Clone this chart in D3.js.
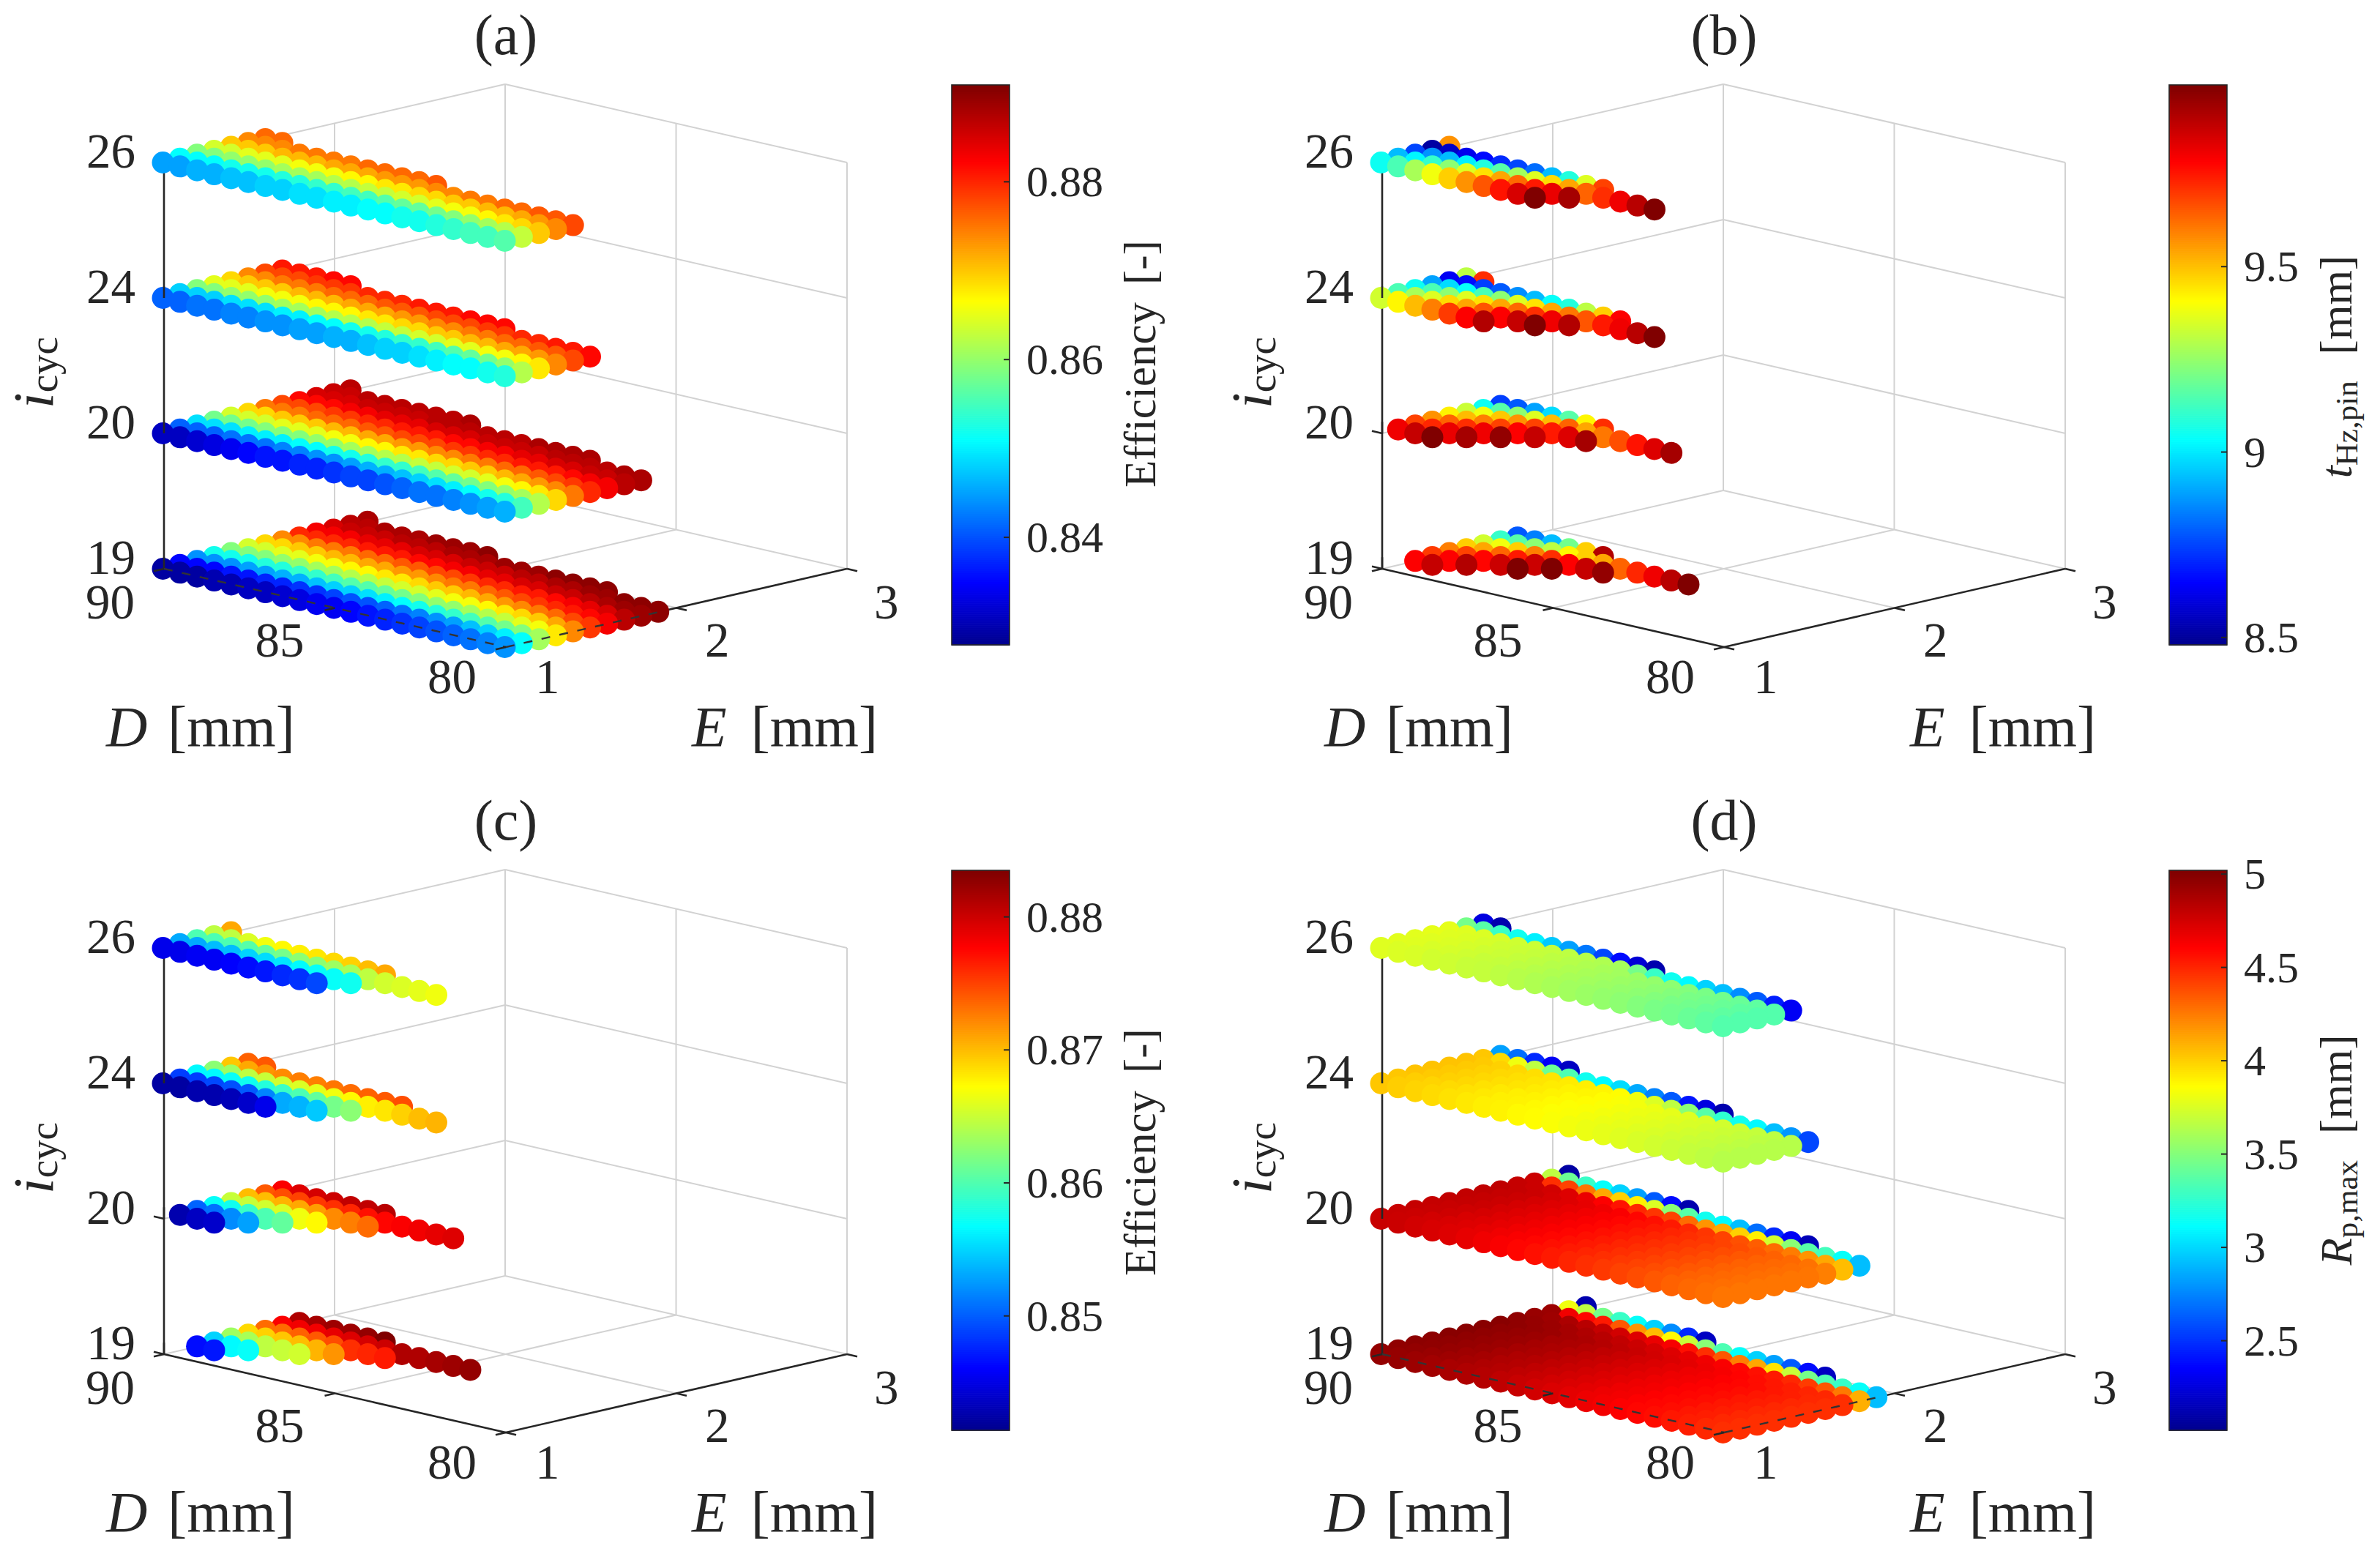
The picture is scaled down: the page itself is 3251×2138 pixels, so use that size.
<!DOCTYPE html>
<html><head><meta charset="utf-8">
<script src="https://cdn.jsdelivr.net/npm/d3@7"></script>
<style>html,body{margin:0;padding:0;background:#fff}svg{display:block}text{font-family:"Liberation Serif",serif;fill:#262626}</style>
</head><body><svg id="c" width="3251" height="2138"></svg>
<script>
// grid of the design study: each row below starts at D = 90 mm; the row index is the E grid index
const dGrid=[90,89.5,89,88.5,88,87.5,87,86.5,86,85.5,85,84.5,84,83.5,83,82.5,82,81.5,81,80.5,80];
const eGrid=[1,1.1,1.2,1.3,1.4,1.5,1.6,1.7,1.8,1.9,2,2.1,2.2];
const cycLevels=[19,20,24,26];
const dTicks=[90,85,80], eTicks=[1,2,3];

// (a) efficiency, x 1e-3
const a26=[[845,845,846,846,847,847,848,848,849,849,850,850,851,851,852,852,853,854,855,855,856],
[851,851,851,852,852,852,853,853,854,854,855,855,856,857,857,858,859,860,861,862,863],
[859,859,860,860,860,861,861,861,862,862,863,863,864,864,865,866,866,867,868,869,870],
[864,864,865,865,865,866,866,866,867,867,868,868,869,869,870,870,871,871,872,873,874],
[870,870,870,871,871,871,872,872,872,873,873,873,874,874,875,875,876,876,877,877,878],
[874,874,874,875,875,875,875,876,876,876,876,877],
[876,876]];
const a24=[[841,841,842,842,843,843,844,844,845,845,846,846,847,848,848,849,850,851,851,852,853],
[848,848,848,849,849,849,850,850,851,851,852,852,853,854,854,855,856,857,858,860,862],
[859,859,860,860,860,861,861,861,862,862,862,863,863,864,864,865,865,866,866,867,868],
[865,865,865,866,866,866,867,867,867,868,868,869,869,870,870,871,871,872,872,873,874],
[869,870,870,870,871,871,871,872,872,872,873,873,874,874,875,875,876,876,877,877,878],
[874,874,875,875,875,876,876,876,877,877,877,878,878,878,879,879,880,880,881,881,882],
[878,878,878,879,879,879,880,880,880,881,881,881,882,882,882],
[881,881,881,882,882]];
const a20=[[831,831,832,833,834,835,836,836,837,837,838,839,839,840,841,842,842,843,844,845,846],
[841,841,841,842,842,842,843,843,844,844,845,846,846,847,848,849,850,851,852,853,855],
[849,849,849,850,850,850,851,851,852,852,853,854,854,855,856,857,858,859,860,861,862],
[858,858,858,859,859,859,860,860,861,861,862,862,863,863,864,864,865,866,867,868,869],
[864,864,864,865,865,865,866,866,867,867,868,868,869,869,870,870,871,872,873,874,875],
[869,869,870,870,870,871,871,872,872,873,873,874,874,875,875,876,876,877,878,879,880],
[875,875,875,876,876,876,877,877,878,878,878,879,879,880,880,881,881,881,882,883,883],
[878,878,878,879,879,880,880,881,881,881,882,882,883,883,884,884,885,885,886,886,887],
[882,882,882,883,883,884,884,884,885,885,885,886,886,886,886,887,887,887,887,888,888],
[885,885,885,886,886,886,886,887,887,887,887,887,887,888,888,888,888],
[886,886,887,887,887,887,887,887,888],
[887]];
const a19=[[829,829,829,830,830,831,831,832,833,834,834,835,836,837,838,839,840,841,842,843,844],
[835,835,835,836,836,837,837,838,838,839,840,840,841,842,843,844,845,847,848,850,851],
[844,844,844,845,845,846,846,847,848,848,849,850,851,852,853,854,855,856,858,859,861],
[852,852,852,853,853,854,854,855,856,856,857,858,859,860,860,861,862,863,865,866,868],
[859,859,859,860,860,861,861,862,862,863,864,864,865,866,866,867,868,869,870,872,874],
[864,864,865,865,866,866,867,867,868,868,869,870,870,871,872,873,874,875,876,878,879],
[869,869,870,870,871,871,872,872,873,873,874,875,875,876,877,878,879,880,881,882,883],
[874,874,875,875,875,876,876,877,877,878,878,879,880,880,881,881,882,883,884,885,887],
[880,880,880,880,881,881,881,882,882,883,883,884,884,885,885,886,886,887,888,889,889],
[883,883,883,884,884,884,885,885,885,886,886,886,887,887,888,888,889,889,890,890,890],
[885,886,886,886,887,887,887,888,888,888,889,889,889,890,890,890,890],
[887,887,888,888,888,889,889,889,890],
[888]];

// (b) t_Hz,pin, mm
const b26=[[9.05,9.14,9.28,9.39,9.48,9.57,9.66,9.76,9.85,9.99],
[8.93,9.02,9.11,9.24,9.36,9.45,9.54,9.63,9.75,9.82,9.93],
[8.75,8.87,8.93,9.01,9.08,9.16,9.27,9.36,9.46,9.54,9.64,9.72,9.81,9.90,9.99],
[8.51,8.56,8.62,8.66,8.71,8.75,8.81,8.93,9.08,9.36,9.69],
[9.57]];
const b24=[[9.34,9.42,9.51,9.60,9.70,9.79,9.91],
[9.14,9.28,9.36,9.46,9.54,9.66,9.79,9.88,9.99],
[9.05,9.14,9.24,9.36,9.45,9.54,9.63,9.72,9.81,9.91],
[8.89,8.98,9.04,9.14,9.24,9.36,9.45,9.54,9.61,9.66,9.75,9.81,9.90,9.99],
[8.63,8.66,8.74,8.78,8.86,8.93,9.04,9.08,9.31,9.48,9.79],
[9.31,9.72]];
const b20=[[],
[9.81,9.88,9.99],
[9.69,9.73,9.82,9.93],
[9.57,9.64,9.72,9.81,9.96],
[9.43,9.51,9.60,9.69,9.79,9.88],
[9.33,9.39,9.49,9.57,9.69,9.75,9.84,9.93],
[9.05,9.16,9.24,9.36,9.51,9.64,9.54,9.61,9.67,9.76,9.84,9.93],
[8.74,8.78,8.89,8.98,9.16,9.42,9.72]];
const b19=[[],[],
[9.79,9.88],
[9.70,9.79,9.91],
[9.60,9.69,9.78,9.87,9.99],
[9.48,9.54,9.64,9.75,9.87,9.99],
[9.34,9.39,9.48,9.60,9.72,9.79,9.88,9.96],
[9.11,9.16,9.24,9.31,9.42,9.48,9.54,9.64,9.73,9.81,9.90,9.99],
[8.78,8.84,8.93,9.20,9.48,9.91]];

// (c) efficiency, x 1e-4
const c26=[[8452,8452,8456,8456,8460,8465,8469,8477,8481,8490],
[8532,8532,8540,8540,8549,8553,8557,8566,8570,8570,8574],
[8599,8599,8599,8603,8608,8616,8625,8625,8633,8637,8646,8654,8658,8662,8667],
[8646,8646,8658,8667,8675,8679,8683,8688,8692,8700,8709],
[8709]];
const c24=[[8422,8422,8427,8427,8431,8439,8452],
[8486,8486,8490,8494,8498,8516,8532,8536,8545],
[8566,8566,8570,8574,8582,8591,8599,8608,8616,8625],
[8625,8633,8646,8650,8654,8658,8662,8667,8675,8679,8683,8692,8700,8704],
[8696,8709,8717,8721,8726,8726,8730,8734,8738,8742,8747],
[8738,8742]];
const c20=[[],
[8427,8435,8439],
[8502,8507,8519,8528],
[8570,8574,8591,8599,8608],
[8650,8650,8654,8658,8667,8675],
[8700,8700,8704,8709,8713,8721,8726,8734],
[8742,8747,8751,8755,8759,8763,8772,8776,8780,8784,8789,8793],
[8780,8793,8797,8801,8806,8806,8810]];
const c19=[[],[],
[8465,8469],
[8549,8566,8570],
[8633,8637,8646,8650,8654],
[8688,8692,8696,8700,8704,8717],
[8734,8734,8738,8742,8747,8759,8763,8768],
[8780,8784,8784,8789,8793,8797,8801,8814,8814,8818,8822,8826],
[8814,8818,8822,8822,8826,8835]];

// (d) R_p,max, mm
const d26=[[3.77,3.76,3.75,3.73,3.72,3.70,3.69,3.67,3.65,3.63,3.61,3.59,3.57,3.55,3.53,3.50,3.47,3.45,3.42,3.39,3.36],
[3.78,3.77,3.75,3.74,3.72,3.70,3.69,3.67,3.65,3.63,3.61,3.59,3.57,3.55,3.53,3.50,3.47,3.45,3.42,3.39,3.36],
[3.78,3.77,3.76,3.74,3.72,3.71,3.69,3.67,3.65,3.63,3.61,3.59,3.57,3.55,3.53,3.50,3.47,3.45,3.42,3.39,3.36],
[3.79,3.77,3.76,3.74,3.72,3.71,3.69,3.67,3.65,3.63,3.61,3.59,3.57,3.55,3.53,3.50,3.47,3.45,3.42,3.39,3.36],
[3.79,3.77,3.76,3.74,3.72,3.71,3.69,3.67,3.65,3.63,3.60,3.46,3.28,3.16,3.10,2.98,2.92,2.77,2.62,2.44,2.32],
[3.46,3.37,3.28,3.16,3.07,2.95,2.83,2.71,2.56,2.38,2.23,2.11],
[2.26,2.11]];
const d24=[[4.03,4.01,3.99,3.97,3.95,3.93,3.91,3.90,3.88,3.87,3.85,3.83,3.81,3.79,3.77,3.75,3.73,3.71,3.69,3.67,3.65],
[4.03,4.01,3.99,3.97,3.95,3.93,3.91,3.90,3.88,3.86,3.85,3.83,3.81,3.79,3.77,3.75,3.73,3.71,3.69,3.67,3.65],
[4.04,4.02,4.00,3.98,3.95,3.93,3.91,3.90,3.88,3.86,3.85,3.83,3.81,3.79,3.77,3.75,3.73,3.71,3.69,3.67,3.65],
[4.04,4.02,4.00,3.98,3.96,3.94,3.92,3.90,3.88,3.87,3.85,3.83,3.81,3.79,3.77,3.75,3.73,3.71,3.69,3.67,3.65],
[4.04,4.02,4.00,3.98,3.96,3.94,3.92,3.90,3.89,3.87,3.85,3.83,3.81,3.79,3.77,3.75,3.73,3.71,3.69,3.67,3.65],
[4.04,4.02,4.00,3.98,3.96,3.94,3.92,3.91,3.89,3.87,3.82,3.76,3.67,3.52,3.37,3.25,3.16,3.10,2.92,2.80,2.56],
[4.03,3.97,3.82,3.67,3.43,3.34,3.16,3.10,3.01,2.86,2.74,2.62,2.41,2.26,2.11],
[2.83,2.68,2.47,2.32,2.17]];
const d20=[[4.79,4.78,4.76,4.74,4.72,4.69,4.66,4.63,4.60,4.57,4.54,4.51,4.48,4.45,4.42,4.39,4.36,4.33,4.31,4.29,4.27],
[4.79,4.78,4.76,4.74,4.72,4.69,4.66,4.63,4.60,4.57,4.54,4.51,4.48,4.45,4.42,4.39,4.36,4.33,4.31,4.29,4.27],
[4.80,4.79,4.77,4.74,4.72,4.69,4.66,4.63,4.60,4.57,4.54,4.51,4.48,4.45,4.42,4.39,4.36,4.33,4.31,4.29,4.27],
[4.80,4.79,4.77,4.75,4.72,4.69,4.66,4.63,4.60,4.57,4.54,4.51,4.48,4.45,4.42,4.39,4.36,4.33,4.31,4.29,4.27],
[4.81,4.80,4.78,4.75,4.72,4.69,4.66,4.63,4.60,4.57,4.54,4.51,4.48,4.45,4.42,4.39,4.36,4.33,4.31,4.29,4.27],
[4.81,4.80,4.78,4.75,4.72,4.69,4.66,4.63,4.60,4.57,4.54,4.51,4.48,4.45,4.42,4.39,4.36,4.33,4.31,4.29,4.27],
[4.82,4.80,4.78,4.75,4.72,4.69,4.66,4.63,4.60,4.57,4.54,4.51,4.48,4.45,4.42,4.39,4.36,4.33,4.31,4.28,4.24],
[4.82,4.80,4.78,4.75,4.72,4.69,4.66,4.63,4.60,4.57,4.54,4.50,4.46,4.42,4.38,4.34,4.30,4.25,4.18,4.12,4.06],
[4.80,4.78,4.76,4.72,4.68,4.62,4.56,4.50,4.46,4.42,4.30,4.18,4.12,4.00,3.91,3.73,3.52,3.37,3.31,3.13,2.92],
[4.78,4.48,4.42,4.27,4.12,4.00,3.91,3.76,3.52,3.37,3.16,3.10,2.92,2.68,2.47,2.32,2.14],
[3.67,3.43,3.28,3.13,2.98,2.83,2.62,2.38,2.11],
[2.08]];
const d19=[[4.96,4.95,4.93,4.91,4.89,4.87,4.85,4.82,4.79,4.76,4.73,4.70,4.67,4.65,4.62,4.60,4.58,4.55,4.53,4.50,4.48],
[4.97,4.96,4.94,4.92,4.90,4.87,4.85,4.82,4.79,4.76,4.73,4.70,4.67,4.65,4.62,4.60,4.58,4.55,4.53,4.50,4.48],
[4.98,4.97,4.95,4.92,4.90,4.87,4.85,4.82,4.79,4.76,4.73,4.70,4.67,4.65,4.62,4.60,4.58,4.55,4.53,4.50,4.48],
[4.98,4.97,4.95,4.93,4.90,4.87,4.85,4.82,4.79,4.76,4.73,4.70,4.67,4.65,4.62,4.60,4.58,4.55,4.53,4.50,4.48],
[4.99,4.97,4.95,4.93,4.90,4.88,4.85,4.82,4.79,4.76,4.73,4.70,4.67,4.65,4.62,4.60,4.58,4.55,4.53,4.50,4.48],
[4.99,4.97,4.95,4.93,4.90,4.88,4.85,4.82,4.79,4.76,4.73,4.70,4.67,4.65,4.62,4.60,4.58,4.55,4.53,4.50,4.48],
[4.99,4.97,4.95,4.93,4.90,4.88,4.85,4.82,4.79,4.76,4.73,4.70,4.67,4.65,4.62,4.60,4.58,4.55,4.53,4.50,4.48],
[4.99,4.97,4.95,4.93,4.90,4.88,4.85,4.82,4.79,4.76,4.73,4.70,4.67,4.64,4.61,4.58,4.55,4.53,4.51,4.50,4.48],
[4.97,4.95,4.93,4.90,4.87,4.84,4.81,4.78,4.75,4.72,4.69,4.66,4.63,4.60,4.57,4.54,4.50,4.44,4.36,4.26,4.10],
[4.94,4.92,4.88,4.84,4.80,4.76,4.72,4.68,4.64,4.57,4.48,4.36,4.24,4.12,3.94,3.70,3.46,3.34,3.28,3.13,2.92],
[4.93,4.66,4.60,4.54,4.36,4.18,4.06,3.88,3.70,3.52,3.34,3.13,2.98,2.83,2.62,2.38,2.17],
[3.82,3.67,3.46,3.28,3.13,2.98,2.77,2.47,2.17],
[2.11]];

const ticksA=[0.84,0.86,0.88], ticksB=[8.5,9,9.5], ticksC=[0.85,0.86,0.87,0.88], ticksD=[2.5,3,3.5,4,4.5,5];
const labelsB=["8.5","9","9.5"], labelsD=["2.5","3","3.5","4","4.5","5"];

const panels=[
 {name:"(a)",ox:0,oy:0,layers:[a19,a20,a24,a26],unit:1e-3,domain:[0.8279,0.8909],ticks:ticksA,tickText:d=>d.toFixed(2),floorDash:true,
  cb:{x:1300,x2:1379},title:{x:1578,mid:497,main:"Efficiency"}},
 {name:"(b)",ox:1664,oy:0,layers:[b19,b20,b24,b26],unit:1,domain:[8.48,9.99],ticks:ticksB,tickText:(d,i)=>labelsB[i],floorDash:false,
  cb:{x:2963,x2:3042},title:{x:3212,mid:501,ital:"t",sub:"Hz,pin"}},
 {name:"(c)",ox:0,oy:1073,layers:[c19,c20,c24,c26],unit:1e-4,domain:[0.8414,0.8835],ticks:ticksC,tickText:d=>d.toFixed(2),floorDash:false,
  cb:{x:1300,x2:1379},title:{x:1578,mid:501,main:"Efficiency"}},
 {name:"(d)",ox:1664,oy:1073,layers:[d19,d20,d24,d26],unit:1,domain:[2.02,5.02],ticks:ticksD,tickText:(d,i)=>labelsD[i],floorDash:true,
  cb:{x:2963,x2:3042},title:{x:3212,mid:498,ital:"R",sub:"p,max"}}
];

// MATLAB jet
const jet=d3.scaleLinear().domain([0,0.11,0.365,0.615,0.865,1])
  .range(["#00008f","#0000ff","#00ffff","#ffff00","#ff0000","#800000"]).clamp(true);

const svg=d3.select("#c");
svg.append("rect").attr("width",3251).attr("height",2138).attr("fill","#fff");

const frontX=691, frontY=884, dDx=-467, dDy=-107, dEx=466, dEy=-107, dZ=-185;
const uD=d3.scaleLinear().domain([80,90]).range([0,1]);
const uE=d3.scaleLinear().domain([1,3]).range([0,1]);
const uZ=d3.scaleLinear().domain([0,3]).range([0,3]);
const TICK=14, GRID="#d2d2d2", DARK="#262626";

panels.forEach(p=>{
  const g=svg.append("g").attr("transform",`translate(${p.ox},${p.oy})`);
  const X=(D,E)=>frontX+uD(D)*dDx+uE(E)*dEx;
  const Y=(D,E,z)=>frontY+uD(D)*dDy+uE(E)*dEy+uZ(z)*dZ;
  const seg=(sel,a,b,col,w,dash)=>sel.append("line")
    .attr("x1",X(a[0],a[1])).attr("y1",Y(a[0],a[1],a[2]))
    .attr("x2",X(b[0],b[1])).attr("y2",Y(b[0],b[1],b[2]))
    .attr("stroke",col).attr("stroke-width",w).attr("stroke-dasharray",dash||null);

  // walls and floor grid
  const grid=g.append("g");
  d3.range(4).forEach(z=>{ seg(grid,[90,1,z],[90,3,z],GRID,2); seg(grid,[90,3,z],[80,3,z],GRID,2); });
  seg(grid,[90,2,0],[90,2,3],GRID,2); seg(grid,[90,3,0],[90,3,3],GRID,2);
  seg(grid,[85,3,0],[85,3,3],GRID,2); seg(grid,[80,3,0],[80,3,3],GRID,2);
  seg(grid,[85,1,0],[85,3,0],GRID,2); seg(grid,[90,2,0],[80,2,0],GRID,2);

  // axes
  const axes=g.append("g");
  seg(axes,[90,1,0],[90,1,3],DARK,2.6);
  seg(axes,[90,1,0],[80,1,0],DARK,2.6);
  seg(axes,[80,1,0],[80,3,0],DARK,2.6);
  const tick=(sel,x,y,dx,dy)=>sel.append("line").attr("x1",x).attr("y1",y).attr("x2",x+dx).attr("y2",y+dy).attr("stroke",DARK).attr("stroke-width",2.6);
  const zT=(sel)=>d3.range(4).forEach(z=>tick(sel,X(90,1),Y(90,1,z),-TICK,-TICK*0.23));
  const dT=(sel)=>dTicks.forEach(D=>tick(sel,X(D,1),Y(D,1,0),-TICK,TICK*0.23));
  const eT=(sel)=>eTicks.forEach(E=>tick(sel,X(80,E),Y(80,E,0),TICK,TICK*0.23));
  zT(axes);dT(axes);eT(axes);

  // markers
  const marks=g.append("g");
  p.layers.forEach((rows,z)=>{
    const pts=[];
    rows.forEach((row,j)=>row.forEach((v,i)=>pts.push({D:dGrid[i],E:eGrid[j],v:v*p.unit})));
    pts.sort((a,b)=>Y(a.D,a.E,z)-Y(b.D,b.E,z));
    marks.append("g").selectAll("circle").data(pts).join("circle")
      .attr("cx",d=>X(d.D,d.E)-1.5).attr("cy",d=>Y(d.D,d.E,z))
      .attr("r",15)
      .attr("fill",d=>jet((d.v-p.domain[0])/(p.domain[1]-p.domain[0])));
  });

  // depth-tied pieces of the axes that show over the markers
  const over=g.append("g");
  [0,1,2].forEach(z=>seg(over,[90,1,z],[90,1,z+0.085],DARK,2.6));
  if(p.floorDash){
    seg(over,[90,1,0],[80,1,0],"#333",2.4,"12 13");
    seg(over,[80,1,0],[80,1.9,0],"#333",2.4,"12 13");
    dT(over);
  }

  // tick labels
  const fs=67, base=fs*0.338;
  const lab=(x,y,t,anchor)=>g.append("text").attr("x",x).attr("y",y+base).attr("font-size",fs).attr("text-anchor",anchor).text(t);
  cycLevels.forEach((c,z)=>lab(X(90,1)-39,Y(90,1,z)-16,c,"end"));
  dTicks.forEach((D,i)=>lab(X(D,1)-[40,42,40][i],Y(D,1,0)+[45,44,40][i],D,"end"));
  eTicks.forEach((E,i)=>lab(X(80,E)+[40,39,37][i],Y(80,E,0)+[40,44,45][i],E,"start"));

  // axis titles
  const at=(x,ital,gap)=>{const t=g.append("text").attr("x",x).attr("y",1019).attr("font-size",78);
    t.append("tspan").attr("font-style","italic").text(ital);
    t.append("tspan").attr("dx",gap).text("[mm]");};
  at(145,"D",28);at(945,"E",33);
  const ic=g.append("text").attr("transform","translate(72,558) rotate(-90)").attr("font-size",78);
  ic.append("tspan").attr("font-style","italic").text("i");
  ic.append("tspan").attr("font-size",55).attr("dy",6).text("cyc");

  g.append("text").attr("x",691).attr("y",74).attr("font-size",78).attr("text-anchor","middle").text(p.name);

  // colour bar
  const cbTop=116, cbBot=881;
  const cy=d3.scaleLinear().domain(p.domain).range([cbBot,cbTop]);
  const lev=d3.range(256);
  const cb=g.append("g");
  const cx=p.cb.x-p.ox, cw=p.cb.x2-p.cb.x;
  cb.selectAll("rect").data(lev).join("rect")
    .attr("x",cx).attr("width",cw)
    .attr("y",l=>cbBot-(l+1)*(cbBot-cbTop)/256).attr("height",(cbBot-cbTop)/256+0.7)
    .attr("fill",l=>jet(l/255));
  cb.append("rect").attr("x",cx).attr("y",cbTop).attr("width",cw).attr("height",cbBot-cbTop)
    .attr("fill","none").attr("stroke",DARK).attr("stroke-width",1.6);
  p.ticks.forEach((t,i)=>{
    const y=cy(t);
    cb.append("line").attr("x1",cx+cw-8).attr("x2",cx+cw).attr("y1",y).attr("y2",y).attr("stroke",DARK).attr("stroke-width",2);
    cb.append("text").attr("x",cx+cw+23).attr("y",y+20).attr("font-size",60).text(p.tickText(t,i));
  });
  const tt=g.append("text").attr("transform",`translate(${p.title.x-p.ox},${p.title.mid}) rotate(-90)`)
    .attr("font-size",61).attr("text-anchor","middle");
  if(p.title.main) tt.append("tspan").text(p.title.main);
  if(p.title.ital){
    tt.append("tspan").attr("font-style","italic").text(p.title.ital);
    tt.append("tspan").attr("font-size",43).attr("dy",8).text(p.title.sub);
    tt.append("tspan").attr("dy",-8).attr("dx",36).text("[mm]");
  } else {
    tt.append("tspan").attr("dx",24).text("[-]");
  }
});
</script></body></html>
